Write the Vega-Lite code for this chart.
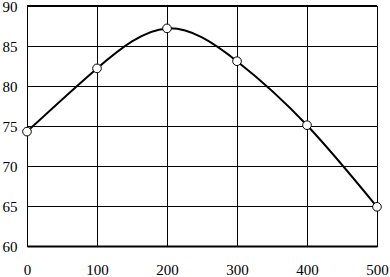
{
  "$schema": "https://vega.github.io/schema/vega-lite/v6.json",
  "autosize": "none",
  "width": 350,
  "height": 240,
  "padding": {"left": 27, "top": 6, "right": 13, "bottom": 31},
  "background": "white",
  "config": {
    "view": {"stroke": "black", "strokeWidth": 1},
    "axis": {
      "labelFont": "Liberation Serif",
      "labelFontSize": 15,
      "labelColor": "black",
      "gridColor": "black",
      "gridOpacity": 1,
      "gridWidth": 1,
      "ticks": false,
      "domainColor": "black",
      "title": null,
      "labelOverlap": false
    }
  },
  "data": {
    "values": [
      {"x": 0, "y": 74.3},
      {"x": 100, "y": 82.2},
      {"x": 200, "y": 87.2},
      {"x": 300, "y": 83.1},
      {"x": 400, "y": 75.1},
      {"x": 500, "y": 64.9}
    ]
  },
  "encoding": {
    "x": {
      "field": "x", "type": "quantitative",
      "scale": {"domain": [0, 500], "nice": false},
      "axis": {"values": [0, 100, 200, 300, 400, 500], "gridValues": [0,50,100,150,200,250,300,350,400,450,500], "labelPadding": 16, "domainWidth": 2, "labelFlush": false}
    },
    "y": {
      "field": "y", "type": "quantitative",
      "scale": {"domain": [60, 90], "nice": false, "zero": false},
      "axis": {"values": [60, 65, 70, 75, 80, 85, 90], "labelPadding": 10, "domainWidth": 1, "labelFlush": false}
    }
  },
  "layer": [
    {
      "mark": {"type": "line", "interpolate": "natural", "color": "black", "strokeWidth": 2}
    },
    {
      "mark": {"type": "point", "shape": "circle", "filled": true, "fill": "white", "stroke": "black", "strokeWidth": 1, "size": 75, "opacity": 1}
    },
    {
      "mark": {"type": "rule", "color": "black", "strokeWidth": 2},
      "encoding": {"x": null, "y": {"datum": 90}}
    }
  ]
}
